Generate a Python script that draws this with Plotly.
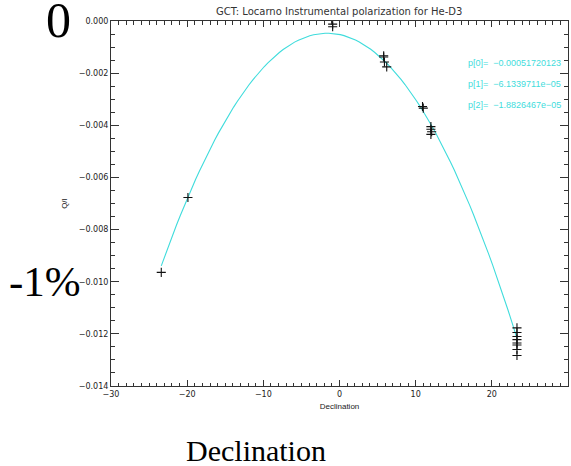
import plotly.graph_objects as go

# Measured points (Declination, Q/I)
decl = [-23.4, -19.9, -0.9, -0.9, 5.8, 5.8, 5.9, 6.2, 10.9, 11.0,
        12.0, 12.0, 12.1, 12.0,
        23.3, 23.3, 23.3, 23.3, 23.3, 23.3, 23.3, 23.3]
q_over_i = [-0.00964, -0.00677, -0.00012, -0.00022, -0.00133, -0.00138, -0.00157, -0.00176, -0.00328, -0.00334,
            -0.00405, -0.00415, -0.00425, -0.00435,
            -0.01177, -0.01195, -0.01210, -0.01222, -0.01235, -0.01243, -0.01260, -0.01283]

# Fit coefficients printed on the chart (quadratic fit)
p = [-0.00051720123, -6.1339711e-05, -1.8826467e-05]
p_labels = ["p[0]=", "p[1]=", "p[2]="]
p_texts = ["\u22120.00051720123", "\u22126.1339711e\u221205", "\u22121.8826467e\u221205"]

fit_x = [-23.4 + 0.5 * i for i in range(94)] + [23.3]
fit_y = [p[0] + p[1] * x + p[2] * x * x for x in fit_x]

x_ticks = [-30, -20, -10, 0, 10, 20, 30]
y_ticks = [0.0, -0.002, -0.004, -0.006, -0.008, -0.010, -0.012, -0.014]

CYAN = "#3fdcdc"
AX = "#333333"
SANS = "Liberation Sans, Arial"
WIDE = "DejaVu Sans, Verdana"

W, H = 571, 466
L, T = 111, 21
R = W - 568
B = H - 386
PW, PH = W - L - R, H - T - B


def px(xp):
    return (xp - L) / PW


def py(yp):
    return 1 - (yp - T) / PH


fig = go.Figure()
fig.add_trace(go.Scatter(x=fit_x, y=fit_y, mode="lines",
                         line=dict(color=CYAN, width=1.1), hoverinfo="skip"))
fig.add_trace(go.Scatter(x=decl, y=q_over_i, mode="markers",
                         marker=dict(symbol="cross-thin", size=6.5,
                                     line=dict(color="#111111", width=1.1))))

fig.update_layout(
    width=W, height=H,
    margin=dict(l=L, r=R, t=T, b=B, autoexpand=False),
    paper_bgcolor="white", plot_bgcolor="white",
    showlegend=False,
    font=dict(family=SANS, size=9, color="#222222"),
    xaxis=dict(range=[-30, 30], tickvals=x_ticks, automargin=False,
               ticktext=[("\u2212" + str(-t)) if t < 0 else str(t) for t in x_ticks],
               ticks="inside", ticklen=6, tickwidth=1, tickcolor=AX,
               showline=True, linecolor=AX, linewidth=1, mirror="allticks",
               showgrid=False, zeroline=False,
               minor=dict(dtick=1, tick0=0, ticks="inside", ticklen=3.5, tickcolor=AX, showgrid=False),
               tickfont=dict(family=WIDE, size=8, color="#222222"),
               title=dict(text="Declination", standoff=5,
                          font=dict(family=SANS, size=8, color="#222222"))),
    yaxis=dict(range=[-0.014, 0.0], tickvals=y_ticks, automargin=False,
               ticktext=["0.000"] + ["\u2212" + f"{-t:.3f}" for t in y_ticks[1:]],
               ticks="inside", ticklen=8, tickwidth=1, tickcolor=AX,
               showline=True, linecolor=AX, linewidth=1, mirror="allticks",
               showgrid=False, zeroline=False,
               minor=dict(dtick=0.0005, tick0=0, ticks="inside", ticklen=4, tickcolor=AX, showgrid=False),
               tickfont=dict(family=WIDE, size=8, color="#222222"),
               title=dict(text="Q/I", standoff=9,
                          font=dict(family=SANS, size=8, color="#222222"))),
)

# title
fig.add_annotation(text="GCT: Locarno Instrumental polarization for He-D3",
                   x=px(339), y=py(12), xref="paper", yref="paper", yanchor="middle",
                   xanchor="center", showarrow=False,
                   font=dict(family=WIDE, size=10, color="#333333"))

# fit parameter labels (label and value in one text, left-aligned)
for i, (lab, txt) in enumerate(zip(p_labels, p_texts)):
    yp = py(63 + 21 * i)
    fig.add_annotation(text=lab + "\u00a0\u00a0" + txt, x=px(466), y=yp,
                       xref="paper", yref="paper",
                       xanchor="left", yanchor="middle", showarrow=False,
                       font=dict(family=SANS, size=9, color=CYAN))

# big serif overlays
serif = "Liberation Serif, Times New Roman, serif"
fig.add_annotation(text="0", x=px(58), y=py(20),
                   xref="paper", yref="paper", showarrow=False,
                   xanchor="center", yanchor="middle",
                   font=dict(family=serif, size=50, color="black"))
fig.add_annotation(text="-1%", x=px(45), y=py(281),
                   xref="paper", yref="paper", showarrow=False,
                   xanchor="center", yanchor="middle",
                   font=dict(family=serif, size=43, color="black"))
fig.add_annotation(text="Declination", x=px(256), y=py(450),
                   xref="paper", yref="paper", showarrow=False,
                   xanchor="center", yanchor="middle",
                   font=dict(family=serif, size=30, color="black"))

fig.write_html("out.html", config={"displayModeBar": False},
               post_script="document.body.style.margin='0px';")
